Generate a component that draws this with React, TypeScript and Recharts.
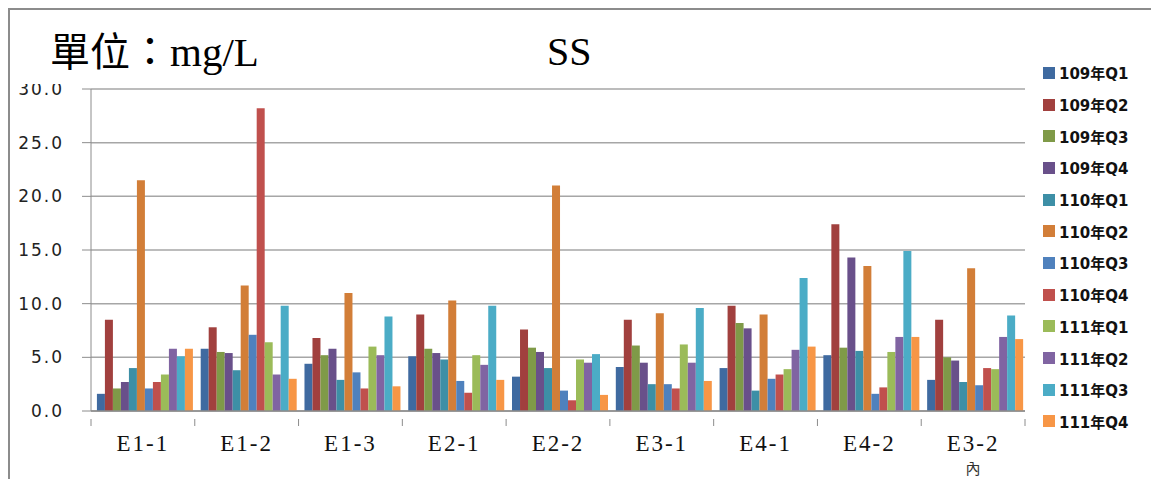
import React from 'react';
import { BarChart, Bar, XAxis, YAxis, CartesianGrid } from 'recharts';

const stations = ['E1-1', 'E1-2', 'E1-3', 'E2-1', 'E2-2', 'E3-1', 'E4-1', 'E4-2', 'E3-2內'];

const seriesNames = [
    '109年Q1', '109年Q2', '109年Q3', '109年Q4',
    '110年Q1', '110年Q2', '110年Q3', '110年Q4',
    '111年Q1', '111年Q2', '111年Q3', '111年Q4',
];

const seriesColors = [
    '#3F6AA0', '#A1403E', '#7F9A48', '#69508A', '#3D8FA6', '#D27E38',
    '#4F81BD', '#C0504D', '#9BBB59', '#8064A2', '#4BACC6', '#F79646',
];

// one row per series, one value per station (mg/L)
const q109_1 = [1.6, 5.8, 4.4, 5.1, 3.2, 4.1, 4.0, 5.2, 2.9];
const q109_2 = [8.5, 7.8, 6.8, 9.0, 7.6, 8.5, 9.8, 17.4, 8.5];
const q109_3 = [2.1, 5.5, 5.2, 5.8, 5.9, 6.1, 8.2, 5.9, 5.0];
const q109_4 = [2.7, 5.4, 5.8, 5.4, 5.5, 4.5, 7.7, 14.3, 4.7];
const q110_1 = [4.0, 3.8, 2.9, 4.8, 4.0, 2.5, 1.9, 5.6, 2.7];
const q110_2 = [21.5, 11.7, 11.0, 10.3, 21.0, 9.1, 9.0, 13.5, 13.3];
const q110_3 = [2.1, 7.1, 3.6, 2.8, 1.9, 2.5, 3.0, 1.6, 2.4];
const q110_4 = [2.7, 28.2, 2.1, 1.7, 1.0, 2.1, 3.4, 2.2, 4.0];
const q111_1 = [3.4, 6.4, 6.0, 5.2, 4.8, 6.2, 3.9, 5.5, 3.9];
const q111_2 = [5.8, 3.4, 5.2, 4.3, 4.5, 4.5, 5.7, 6.9, 6.9];
const q111_3 = [5.1, 9.8, 8.8, 9.8, 5.3, 9.6, 12.4, 14.9, 8.9];
const q111_4 = [5.8, 3.0, 2.3, 2.9, 1.5, 2.8, 6.0, 6.9, 6.7];

const seriesValues = [
    q109_1, q109_2, q109_3, q109_4,
    q110_1, q110_2, q110_3, q110_4,
    q111_1, q111_2, q111_3, q111_4,
];

const yTicks = [0, 5, 10, 15, 20, 25, 30];

const data = stations.map((name, i) => {
    const row: any = { name };
    seriesValues.forEach((vals, s) => {
        row['s' + s] = vals[i];
    });
    return row;
});

const PLOT_WIDTH = 934;
const BAND = PLOT_WIDTH / stations.length;

const StationTick = (props: any) => {
    const { x, y, payload, index } = props;
    const label: string = payload.value;
    const main = label.slice(0, 4);
    const rest = label.slice(4);
    return (
        <g>
            <line x1={x - BAND / 2} y1={y} x2={x - BAND / 2} y2={y + 7} stroke="#8c8c8c" />
            {index === stations.length - 1 && (
                <line x1={x + BAND / 2} y1={y} x2={x + BAND / 2} y2={y + 7} stroke="#8c8c8c" />
            )}
            <text x={x} y={y + 32} textAnchor="middle" fontFamily="'Liberation Serif', serif" fontSize={23} fill="#111" style={{ letterSpacing: 2 }}>
                {main}
            </text>
            {rest && (
                <text x={x} y={y + 55} textAnchor="middle" fontFamily="'Noto Sans CJK TC', sans-serif" fontSize={15} fill="#333">
                    {rest}
                </text>
            )}
        </g>
    );
};

const App: React.FC = () => {
    return (
        <div
            style={{
                position: 'relative',
                width: 1151,
                height: 471,
                boxSizing: 'border-box',
                borderTop: '2px solid #8c8c8c',
                borderLeft: '2px solid #8c8c8c',
                background: '#fff',
            }}
        >
            <BarChart
                width={1149}
                height={469}
                data={data}
                margin={{ top: 79, right: 134, left: 0, bottom: 28 }}
                barCategoryGap="5.7%"
                barGap={0}
            >
                <CartesianGrid vertical={false} stroke="#a6a6a6" strokeWidth={1.5} />
                <XAxis
                    dataKey="name"
                    height={40}
                    interval={0}
                    tickLine={false}
                    axisLine={{ stroke: '#8c8c8c', strokeWidth: 1.5 }}
                    tick={<StationTick />}
                />
                <YAxis
                    width={81}
                    domain={[0, 30]}
                    ticks={yTicks}
                    tickSize={9}
                    tickMargin={18}
                    tickFormatter={(v: number) => v.toFixed(1)}
                    axisLine={{ stroke: '#8c8c8c' }}
                    tickLine={{ stroke: '#8c8c8c' }}
                    tick={{ fontFamily: "'DejaVu Sans', sans-serif", fontSize: 17, fill: '#222', style: { letterSpacing: 2 } } as any}
                />
                {seriesNames.map((n, s) => (
                    <Bar key={n} dataKey={'s' + s} name={n} fill={seriesColors[s]} isAnimationActive={false} />
                ))}
            </BarChart>

            <div
                style={{
                    position: 'absolute',
                    left: 0,
                    top: 0,
                    width: 1020,
                    height: 74,
                    background: '#fff',
                    fontFamily: "'Liberation Serif', 'Noto Sans CJK TC', serif",
                    fontSize: 40,
                    lineHeight: '44px',
                    color: '#000',
                }}
            >
                <span style={{ position: 'absolute', left: 40, top: 20, whiteSpace: 'nowrap' }}>
                    單位：<span style={{ fontSize: 41 }}>mg/L</span>
                </span>
                <span style={{ position: 'absolute', left: 537, top: 20 }}>SS</span>
            </div>

            <div style={{ position: 'absolute', left: 1033, top: 47 }}>
                {seriesNames.map((n, s) => (
                    <div key={n} style={{ display: 'flex', alignItems: 'center', height: 31.7 }}>
                        <span style={{ width: 12, height: 12, background: seriesColors[s], marginRight: 4 }} />
                        <span
                            style={{
                                fontFamily: "'DejaVu Sans', 'Noto Sans CJK TC', sans-serif",
                                fontWeight: 'bold',
                                fontSize: 15,
                                color: '#111',
                                whiteSpace: 'nowrap',
                            }}
                        >
                            {n}
                        </span>
                    </div>
                ))}
            </div>
        </div>
    );
};

export default App;
